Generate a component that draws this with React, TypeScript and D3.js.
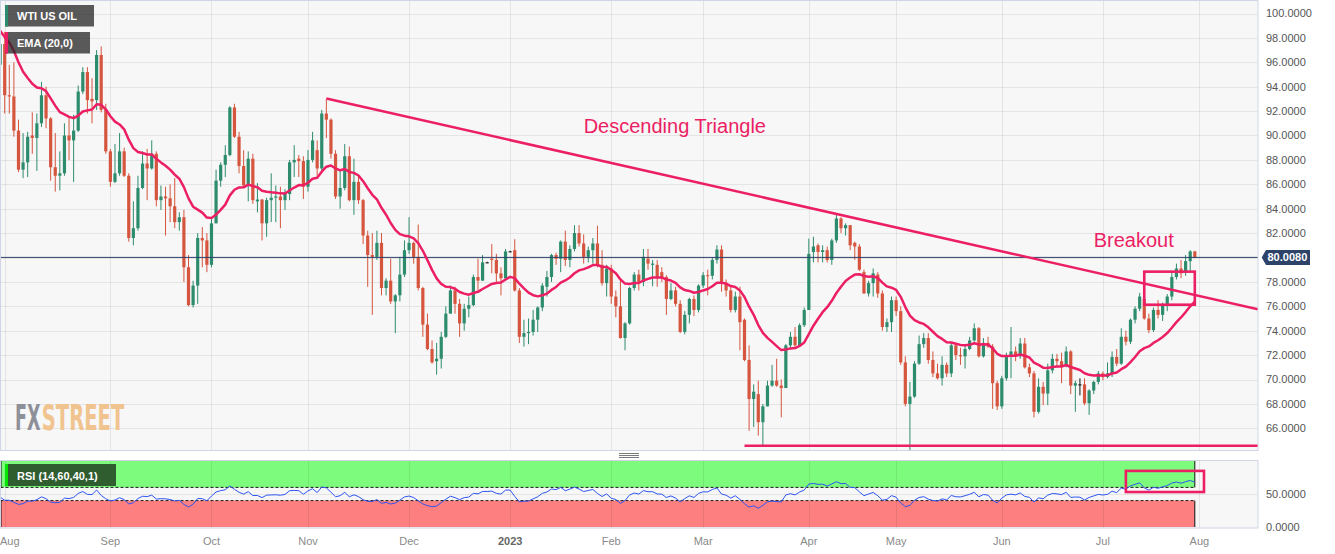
import React, { useEffect, useRef } from 'react';
import * as d3 from 'd3';

// open, high, low, close
type Candle = [number, number, number, number];

const jul2022: Candle[] = [[95.8, 98.9, 95.5, 97.5]];
const aug2022: Candle[] = [
  [97.5, 98.5, 91.8, 93.3], [93.3, 95.8, 91.8, 93.2], [93.2, 96.0, 89.9, 90.4], [90.4, 91.3, 87.0, 87.2],
  [87.2, 90.2, 86.5, 87.8], [87.8, 90.3, 86.6, 89.9], [90.0, 91.9, 88.5, 89.8], [89.8, 91.8, 87.1, 91.0],
  [91.0, 94.4, 90.7, 93.3], [93.3, 94.0, 90.6, 91.4], [91.4, 91.5, 86.3, 87.4], [87.4, 90.2, 85.4, 86.7],
  [86.7, 88.7, 85.5, 86.9], [86.9, 91.0, 86.7, 90.0], [90.0, 91.5, 88.0, 89.6], [89.6, 91.7, 86.2, 90.4],
  [90.4, 94.1, 90.3, 93.6], [93.6, 95.6, 93.4, 95.2], [95.2, 95.6, 91.8, 92.9], [93.0, 94.7, 91.0, 92.8],
  [92.9, 97.0, 92.1, 96.6], [96.6, 97.3, 91.9, 92.1], [92.1, 92.6, 88.5, 88.7],
];
const sep2022: Candle[] = [
  [88.7, 88.9, 85.8, 86.2], [86.2, 89.3, 86.1, 86.9], [86.9, 90.2, 86.7, 88.7], [88.7, 89.0, 86.6, 86.7],
  [86.7, 86.9, 81.3, 81.6], [81.6, 84.6, 81.0, 82.4], [82.4, 86.7, 82.2, 85.7], [85.7, 88.7, 85.6, 87.7],
  [87.7, 88.9, 84.7, 87.3], [87.3, 89.6, 87.2, 88.5], [88.5, 88.7, 84.2, 84.7], [84.7, 85.9, 83.9, 85.0],
  [85.0, 85.8, 81.8, 84.85], [84.85, 86.0, 82.9, 84.2], [84.2, 86.5, 82.4, 82.9], [82.9, 83.7, 82.2, 83.3],
  [83.3, 83.9, 78.0, 79.2], [79.2, 80.2, 76.0, 76.1], [76.1, 78.1, 75.9, 77.7], [77.7, 82.0, 76.2, 81.6],
  [81.6, 82.5, 79.2, 81.4], [81.4, 82.0, 78.8, 79.4],
];
const oct2022: Candle[] = [
  [79.4, 83.2, 79.2, 82.8], [82.8, 87.2, 82.8, 86.3], [86.3, 87.8, 85.8, 87.6], [87.6, 89.2, 86.6, 88.4],
  [88.4, 92.4, 88.3, 92.3], [92.3, 92.6, 89.8, 89.9], [89.9, 90.3, 86.9, 87.5], [87.5, 88.8, 85.7, 85.9],
  [85.9, 88.7, 84.6, 88.1], [88.1, 88.5, 84.4, 84.7], [84.6, 86.1, 83.7, 84.75], [84.75, 84.8, 81.4, 82.8],
  [82.8, 84.9, 81.7, 84.7], [84.7, 86.9, 82.9, 84.9], [84.9, 85.9, 82.9, 85.0], [85.0, 85.8, 82.4, 84.7],
  [84.7, 85.6, 83.9, 85.2], [85.2, 88.0, 84.7, 87.8], [87.8, 89.2, 86.6, 88.0], [88.1, 88.4, 86.6, 87.9],
  [87.9, 88.3, 84.8, 85.8],
];
const nov2022: Candle[] = [
  [85.8, 88.8, 85.4, 88.0], [88.0, 90.3, 87.8, 89.6], [88.8, 89.6, 86.7, 87.3], [87.3, 92.1, 87.0, 91.8],
  [91.8, 93.0, 89.8, 91.3], [91.3, 91.4, 88.1, 88.5], [88.5, 88.8, 84.8, 85.0], [85.0, 87.2, 84.0, 85.7],
  [85.7, 89.3, 85.5, 88.3], [88.3, 89.1, 84.6, 84.7], [84.7, 88.1, 83.5, 86.2], [86.2, 86.7, 84.4, 84.7],
  [84.7, 84.8, 81.1, 81.8], [81.8, 82.2, 77.6, 80.2], [80.2, 82.0, 75.3, 80.05], [80.05, 82.2, 79.8, 81.2],
  [81.2, 82.0, 76.9, 77.5], [77.5, 78.3, 76.9, 78.1], [78.1, 79.9, 76.2, 76.4], [76.4, 77.0, 73.8, 76.9],
  [76.9, 80.05, 76.4, 78.6], [78.6, 81.4, 78.4, 80.6],
];
const dec2022: Candle[] = [
  [80.6, 83.3, 80.3, 81.2], [81.2, 81.3, 79.5, 80.05], [80.05, 82.7, 77.3, 77.5], [77.5, 77.6, 73.5, 74.5],
  [74.5, 75.4, 72.4, 72.5], [72.5, 73.2, 71.3, 71.4], [71.5, 73.0, 70.4, 71.7], [71.7, 73.9, 70.9, 73.5],
  [73.5, 76.0, 73.4, 75.4], [75.4, 77.7, 75.4, 77.3], [77.3, 77.6, 75.4, 76.2], [76.2, 76.6, 73.5, 74.6],
  [74.6, 76.2, 74.0, 75.8], [75.8, 76.8, 75.1, 76.1], [76.1, 78.6, 76.0, 78.4], [78.4, 79.9, 77.3, 78.1],
  [78.1, 80.2, 78.1, 79.6], [79.6, 79.65, 79.55, 79.6], [79.9, 81.1, 78.7, 79.8], [79.8, 80.3, 78.0, 78.7],
  [78.7, 79.2, 76.9, 78.3], [78.3, 80.7, 78.1, 80.5],
];
const jan2023: Candle[] = [
  [80.5, 80.55, 80.45, 80.5], [80.6, 81.5, 77.2, 77.3], [77.3, 77.5, 73.0, 73.5], [73.5, 74.9, 72.7, 73.8],
  [73.8, 75.0, 72.9, 73.9], [73.9, 75.7, 73.6, 74.9], [74.9, 76.0, 73.9, 75.9], [75.9, 77.9, 75.6, 77.7],
  [77.6, 78.9, 76.8, 78.4], [78.4, 80.3, 78.0, 80.2], [80.2, 80.4, 79.4, 79.9], [79.9, 81.4, 78.8, 81.3],
  [81.3, 82.2, 79.3, 79.8], [79.8, 81.0, 79.2, 80.7], [80.7, 82.65, 80.5, 82.0], [82.0, 82.65, 80.9, 81.15],
  [81.15, 81.9, 79.5, 80.05], [80.05, 80.9, 79.6, 80.6], [80.6, 81.6, 79.5, 81.15], [81.15, 82.6, 79.2, 79.4],
  [79.4, 80.6, 77.7, 77.9], [77.9, 79.4, 76.8, 79.1],
];
const feb2023: Candle[] = [
  [79.1, 79.4, 76.2, 76.8], [76.8, 77.3, 75.1, 76.0], [76.0, 78.3, 73.35, 73.4], [73.4, 74.7, 72.4, 74.6],
  [74.6, 77.6, 74.5, 77.5], [77.5, 78.8, 77.3, 78.6], [78.6, 79.0, 77.3, 78.0], [78.0, 80.7, 77.65, 80.05],
  [79.9, 80.7, 79.0, 79.5], [79.4, 79.8, 77.65, 79.5], [79.4, 79.8, 77.6, 78.4], [78.8, 79.2, 78.0, 78.3],
  [78.4, 78.55, 75.3, 76.6], [76.6, 77.9, 76.5, 77.3], [77.3, 77.6, 76.0, 76.2], [76.2, 76.5, 73.8, 73.9],
  [73.9, 75.6, 73.7, 75.3], [75.3, 76.7, 74.6, 76.6], [76.6, 76.9, 75.2, 75.7], [75.7, 77.8, 75.5, 77.7],
];
const mar2023: Candle[] = [
  [77.7, 78.8, 77.5, 78.55], [78.55, 79.0, 76.9, 78.5], [78.5, 80.0, 78.2, 79.8], [79.8, 81.0, 79.5, 80.65],
  [80.65, 81.0, 77.2, 77.9], [77.9, 78.2, 76.8, 77.3], [77.3, 77.6, 75.5, 75.7], [75.7, 77.2, 75.5, 76.8],
  [76.8, 77.6, 72.4, 74.7], [74.9, 75.0, 71.5, 71.6], [71.6, 72.8, 65.8, 68.4], [68.4, 69.6, 66.1, 69.0],
  [68.8, 69.9, 65.4, 66.5], [66.5, 68.0, 64.5, 67.8], [67.8, 69.9, 67.8, 69.5], [69.5, 71.2, 69.4, 69.9],
  [69.9, 71.7, 69.4, 69.5], [69.5, 70.0, 66.9, 69.3], [69.3, 72.9, 69.3, 72.8], [72.8, 73.9, 72.5, 73.5],
  [73.5, 74.3, 72.7, 72.8], [72.8, 74.6, 72.7, 74.45], [74.45, 75.9, 74.3, 75.7],
];
const apr2023: Candle[] = [
  [75.7, 81.55, 75.7, 80.3], [80.45, 81.7, 79.6, 80.9], [81.0, 81.15, 79.6, 80.45], [80.45, 81.0, 79.6, 80.6],
  [80.6, 80.9, 79.6, 79.8], [79.8, 81.55, 79.4, 81.4], [81.4, 83.5, 81.2, 83.2], [83.2, 83.3, 82.0, 82.4],
  [82.4, 82.8, 81.8, 82.65], [82.65, 82.65, 80.6, 81.0], [81.2, 81.3, 79.8, 80.9], [80.9, 81.1, 78.9, 79.0],
  [78.8, 79.0, 77.05, 77.05], [77.05, 78.1, 76.8, 77.9], [77.9, 79.1, 76.8, 78.7], [78.6, 78.8, 76.7, 77.05],
  [77.05, 77.3, 74.0, 74.3], [74.3, 75.0, 73.9, 74.7], [74.7, 76.8, 73.9, 76.5],
];
const may2023: Candle[] = [
  [76.5, 76.8, 75.2, 75.6], [75.6, 76.0, 71.2, 71.4], [71.4, 71.9, 67.8, 68.0], [68.0, 69.8, 64.2, 68.6],
  [68.6, 71.5, 68.5, 71.3], [71.3, 73.6, 71.2, 72.9], [72.9, 73.8, 72.6, 73.4], [73.4, 73.8, 71.3, 71.6],
  [71.6, 72.3, 70.2, 70.5], [70.5, 71.3, 70.0, 70.1], [70.1, 71.9, 69.5, 71.2], [71.2, 71.4, 70.2, 70.5],
  [70.5, 73.0, 70.2, 72.8], [72.8, 72.9, 71.6, 72.0], [72.0, 72.6, 71.2, 71.9], [71.9, 72.9, 70.9, 72.5],
  [72.5, 73.5, 72.4, 73.2], [73.2, 74.6, 73.1, 74.2], [74.2, 74.3, 71.8, 71.9], [71.9, 73.4, 71.8, 73.0],
  [73.0, 73.5, 72.6, 72.7], [72.7, 72.9, 67.6, 69.7], [69.7, 69.9, 67.5, 67.8],
];
const jun2023: Candle[] = [
  [67.8, 70.3, 67.6, 70.1], [70.1, 72.2, 69.9, 71.9], [71.9, 74.3, 70.1, 72.3], [72.3, 72.7, 71.5, 71.9],
  [71.9, 73.4, 71.7, 72.95], [72.95, 73.4, 70.9, 71.0], [71.0, 71.3, 70.2, 70.5], [70.5, 70.7, 66.9, 67.35],
  [67.35, 70.1, 67.2, 69.4], [69.4, 69.8, 67.9, 68.85], [68.85, 71.3, 67.9, 70.75], [70.75, 72.1, 70.5, 71.7],
  [71.7, 72.1, 71.0, 71.5], [71.5, 72.2, 69.7, 71.1], [71.1, 72.7, 71.0, 72.3], [72.3, 72.4, 68.8, 69.5],
  [69.5, 69.9, 67.35, 69.7], [69.6, 70.1, 68.7, 69.6], [69.6, 70.1, 67.9, 68.05], [68.05, 69.2, 67.1, 69.1],
  [69.1, 69.9, 68.8, 69.8], [69.8, 70.7, 69.6, 70.5],
];
const jul2023: Candle[] = [
  [70.5, 70.65, 69.95, 70.2], [70.2, 71.4, 70.1, 70.5], [70.5, 72.3, 70.2, 71.85], [71.85, 72.5, 71.1, 71.3],
  [71.3, 74.2, 71.2, 73.5], [73.5, 74.0, 72.8, 73.1], [73.1, 75.0, 72.9, 74.9], [74.9, 76.0, 74.6, 75.8],
  [75.8, 77.1, 75.6, 76.8], [76.6, 76.9, 74.9, 75.0], [75.0, 75.4, 73.8, 74.05], [74.05, 75.9, 73.9, 75.7],
  [75.7, 76.5, 75.0, 75.3], [75.3, 76.3, 74.8, 76.1], [76.1, 77.0, 75.6, 76.8], [76.8, 78.9, 76.5, 78.4],
  [78.4, 79.5, 78.2, 79.1], [79.1, 79.8, 78.3, 78.7], [78.8, 80.2, 78.5, 79.7], [79.7, 80.6, 78.9, 80.5],
  [80.5, 80.55, 79.95, 80.008],
];

const candles: Candle[] = [
  ...jul2022, ...aug2022, ...sep2022, ...oct2022, ...nov2022, ...dec2022,
  ...jan2023, ...feb2023, ...mar2023, ...apr2023, ...may2023, ...jun2023, ...jul2023,
];

const closedSessions = ['2023-04-07'];
const priceTicks = [66, 68, 70, 72, 74, 76, 78, 80, 82, 84, 86, 88, 90, 92, 94, 96, 98, 100];
const rsiTicks = [0, 50];
const lastPrice = 80.008;
const emaLength = 20;
const emaSeed = 98.7;
const rsiLength = 14;
const rsiSeedGain = 1.2;
const rsiSeedLoss = 1.6;
const rsiHigh = 60;
const rsiLow = 40;

// drawings on the chart
const trendAnchors: [string, number][] = [['2022-11-07', 93.03], ['2023-04-12', 83.57]];
const support = { from: '2023-03-14', price: 64.57 };
const breakoutBox = { from: '2023-07-14', to: '2023-07-31', top: 78.84, bottom: 76.13 };
const rsiBox = { from: '2023-07-10', to: '2023-08-02', top: 85, bottom: 53 };
const notes = [
  { text: 'Descending Triangle', date: '2023-01-24', price: 90.2 },
  { text: 'Breakout', date: '2023-06-29', price: 80.85 },
];

const PINK = '#ec1f64';
const UP = '#2e8c6e';
const DOWN = '#d6553f';
const FONT = '"Liberation Sans", Arial, sans-serif';

export default function App() {
  const svgRef = useRef<SVGSVGElement>(null);

  useEffect(() => {
    if (!svgRef.current) return;
    const svg = d3.select(svgRef.current);
    svg.selectAll('*').remove();

    const plot = { left: 0.5, right: 1258, top: 0.5, bottom: 450.5 };
    const pane = { top: 460.5, bottom: 528 };

    // weekday sessions
    const key = d3.timeFormat('%Y-%m-%d');
    const sessions: Date[] = [];
    for (let d = new Date(2022, 6, 29); sessions.length < 290; d = d3.timeDay.offset(d, 1)) {
      const wd = d.getDay();
      if (wd === 0 || wd === 6 || closedSessions.includes(key(d))) continue;
      sessions.push(d);
    }
    const slot = (k: string) => sessions.findIndex(d => key(d) === k);

    const x = d3.scaleLinear().domain([1, 261]).range([4.7, 1199.4]);
    const y = d3.scaleLinear().domain([66, 100]).range([428.3, 13.5]);
    const yr = d3.scaleLinear().domain([0, 100]).range([527, 461]);
    const kEnd = x.invert(plot.right);
    const last = candles.length - 1;

    // indicators
    const alpha = 2 / (emaLength + 1);
    let e = emaSeed;
    const ema = candles.map(c => (e = e + alpha * (c[3] - e)));
    let g = rsiSeedGain, l = rsiSeedLoss, prev = candles[0][0];
    const rsi = candles.map(c => {
      const ch = c[3] - prev;
      prev = c[3];
      g = (g * (rsiLength - 1) + Math.max(ch, 0)) / rsiLength;
      l = (l * (rsiLength - 1) + Math.max(-ch, 0)) / rsiLength;
      return 100 - 100 / (1 + g / l);
    });

    const monthStarts = sessions
      .map((d, k) => ({ d, k }))
      .filter(({ d, k }) => k > 0 && d.getMonth() !== sessions[k - 1].getMonth() && x(k) < plot.right);

    svg.append('rect').attr('width', 1335).attr('height', 554).attr('fill', '#ffffff');

    const defs = svg.append('defs');
    defs.append('clipPath').attr('id', 'main-clip').append('rect')
      .attr('x', plot.left).attr('y', plot.top)
      .attr('width', plot.right - plot.left).attr('height', plot.bottom - plot.top);

    // ---------- main pane ----------
    svg.append('rect')
      .attr('x', plot.left).attr('y', plot.top)
      .attr('width', plot.right - plot.left).attr('height', plot.bottom - plot.top)
      .attr('fill', '#f7f7f7');

    const main = svg.append('g').attr('clip-path', 'url(#main-clip)');

    main.selectAll('line.hgrid').data(priceTicks).join('line')
      .attr('x1', plot.left).attr('x2', plot.right)
      .attr('y1', d => Math.round(y(d)) + 0.5).attr('y2', d => Math.round(y(d)) + 0.5)
      .attr('stroke', 'rgba(0,0,0,0.075)');
    main.selectAll('line.vgrid').data(monthStarts).join('line')
      .attr('x1', d => Math.round(x(d.k)) + 0.5).attr('x2', d => Math.round(x(d.k)) + 0.5)
      .attr('y1', plot.top).attr('y2', plot.bottom)
      .attr('stroke', 'rgba(0,0,0,0.075)');

    // watermark: each word squeezed horizontally to its width in the logo
    const wmFont = '"DejaVu Sans Condensed", "DejaVu Sans", sans-serif';
    [
      { word: 'FX', left: 15, width: 25.5, color: '#8e9099' },
      { word: 'STREET', left: 41.8, width: 82.5, color: '#f1c48f' },
    ].forEach(w => {
      const grp = main.append('g');
      const t = grp.append('text').attr('x', 0).attr('y', 0)
        .attr('font-family', wmFont).attr('font-weight', 700).attr('font-size', 35)
        .attr('fill', w.color).text(w.word);
      const len = (t.node() as SVGTextElement).getComputedTextLength() || w.width;
      grp.attr('transform', `translate(${w.left},430) scale(${w.width / len},1)`);
    });

    // candles
    const bodyW = 3.2;
    const cg = main.append('g');
    candles.forEach((c, k) => {
      const [o, h, lo, cl] = c;
      const color = cl > o ? UP : cl < o ? DOWN : '#111111';
      const cx = x(k);
      cg.append('rect')
        .attr('x', cx - 0.5).attr('width', 1)
        .attr('y', y(h)).attr('height', Math.max(0.8, y(lo) - y(h)))
        .attr('fill', color);
      const top = y(Math.max(o, cl));
      const bh = Math.max(1, Math.abs(y(o) - y(cl)));
      cg.append('rect')
        .attr('x', cx - bodyW / 2).attr('width', bodyW)
        .attr('y', top).attr('height', bh)
        .attr('fill', color);
    });

    // last price line
    main.append('line')
      .attr('x1', plot.left).attr('x2', plot.right)
      .attr('y1', y(lastPrice)).attr('y2', y(lastPrice))
      .attr('stroke', '#2b3f66').attr('stroke-width', 1);

    // EMA
    main.append('path')
      .datum(ema)
      .attr('d', d3.line<number>().x((_, k) => x(k)).y(v => y(v)))
      .attr('fill', 'none').attr('stroke', PINK).attr('stroke-width', 2.5)
      .attr('stroke-linejoin', 'round');

    // trend line
    const [a1, a2] = trendAnchors;
    const k1 = slot(a1[0]), k2 = slot(a2[0]);
    const slope = (a2[1] - a1[1]) / (k2 - k1);
    main.append('line')
      .attr('x1', x(k1)).attr('y1', y(a1[1]))
      .attr('x2', x(kEnd)).attr('y2', y(a1[1] + slope * (kEnd - k1)))
      .attr('stroke', PINK).attr('stroke-width', 2.5);

    // support
    main.append('line')
      .attr('x1', x(slot(support.from))).attr('x2', x(kEnd))
      .attr('y1', y(support.price)).attr('y2', y(support.price))
      .attr('stroke', PINK).attr('stroke-width', 2.6);

    // breakout box
    main.append('rect')
      .attr('x', x(slot(breakoutBox.from))).attr('y', y(breakoutBox.top))
      .attr('width', x(slot(breakoutBox.to)) - x(slot(breakoutBox.from)))
      .attr('height', y(breakoutBox.bottom) - y(breakoutBox.top))
      .attr('fill', 'none').attr('stroke', PINK).attr('stroke-width', 2.6);

    notes.forEach(n => {
      main.append('text')
        .attr('x', x(slot(n.date))).attr('y', y(n.price))
        .attr('font-family', FONT).attr('font-size', 20)
        .attr('fill', PINK).text(n.text);
    });

    // legends
    const legend = (yy: number, w: number, bar: string, label: string) => {
      svg.append('rect').attr('x', 5).attr('y', yy).attr('width', w).attr('height', 21.5).attr('fill', 'rgba(40,40,40,0.76)');
      svg.append('rect').attr('x', 5).attr('y', yy).attr('width', 3).attr('height', 21.5).attr('fill', bar);
      svg.append('text').attr('x', 17).attr('y', yy + 15.3)
        .attr('font-family', FONT).attr('font-size', 11).attr('font-weight', 700)
        .attr('fill', '#ffffff').text(label);
    };
    legend(5, 89, UP, 'WTI US OIL');
    legend(32, 85, PINK, 'EMA (20,0)');

    svg.append('rect')
      .attr('x', plot.left).attr('y', plot.top)
      .attr('width', plot.right - plot.left).attr('height', plot.bottom - plot.top)
      .attr('fill', 'none').attr('stroke', '#cfd5e4');

    // ---------- RSI pane ----------
    svg.append('rect')
      .attr('x', plot.left).attr('y', pane.top)
      .attr('width', plot.right - plot.left).attr('height', pane.bottom - pane.top)
      .attr('fill', '#f7f7f7');
    const xLast = x(last);
    svg.append('rect')
      .attr('x', plot.left).attr('y', yr(100))
      .attr('width', xLast - plot.left).attr('height', yr(rsiHigh) - yr(100))
      .attr('fill', '#7cfb7c');
    svg.append('rect')
      .attr('x', plot.left).attr('y', yr(rsiLow))
      .attr('width', xLast - plot.left).attr('height', yr(0) - yr(rsiLow))
      .attr('fill', '#fd7f7f');
    svg.selectAll('line.rgrid').data(monthStarts).join('line')
      .attr('x1', d => Math.round(x(d.k)) + 0.5).attr('x2', d => Math.round(x(d.k)) + 0.5)
      .attr('y1', pane.top).attr('y2', pane.bottom)
      .attr('stroke', 'rgba(0,0,0,0.075)');
    svg.append('line')
      .attr('x1', plot.left).attr('x2', plot.right)
      .attr('y1', Math.round(yr(50)) + 0.5).attr('y2', Math.round(yr(50)) + 0.5)
      .attr('stroke', 'rgba(0,0,0,0.075)');
    [rsiHigh, rsiLow].forEach(v => {
      svg.append('line')
        .attr('x1', plot.left).attr('x2', xLast)
        .attr('y1', yr(v)).attr('y2', yr(v))
        .attr('stroke', '#1a1a1a').attr('stroke-dasharray', '3,2');
    });
    [[100, rsiHigh], [rsiLow, 0]].forEach(([a, b]) => {
      [plot.left + 0.5, xLast].forEach(xx => {
        svg.append('line').attr('x1', xx).attr('x2', xx)
          .attr('y1', yr(a)).attr('y2', yr(b)).attr('stroke', '#111');
      });
    });
    svg.append('path')
      .datum(rsi)
      .attr('d', d3.line<number>().x((_, k) => x(k)).y(v => yr(v)))
      .attr('fill', 'none').attr('stroke', '#2d55f2').attr('stroke-width', 1);
    svg.append('rect')
      .attr('x', x(slot(rsiBox.from))).attr('y', yr(rsiBox.top))
      .attr('width', x(slot(rsiBox.to)) - x(slot(rsiBox.from)))
      .attr('height', yr(rsiBox.bottom) - yr(rsiBox.top))
      .attr('fill', 'none').attr('stroke', PINK).attr('stroke-width', 2.6);
    svg.append('rect').attr('x', 5).attr('y', 464).attr('width', 111).attr('height', 22).attr('fill', '#2f5d2f');
    svg.append('rect').attr('x', 5).attr('y', 464).attr('width', 3).attr('height', 22).attr('fill', '#00e600');
    svg.append('text').attr('x', 17).attr('y', 479.5)
      .attr('font-family', FONT).attr('font-size', 11).attr('font-weight', 700)
      .attr('fill', '#ffffff').text('RSI (14,60,40,1)');
    svg.append('rect')
      .attr('x', plot.left).attr('y', pane.top)
      .attr('width', plot.right - plot.left).attr('height', pane.bottom - pane.top)
      .attr('fill', 'none').attr('stroke', '#cfd5e4');

    // pane splitter handle
    [453.5, 455.5, 457.5].forEach(yy => {
      svg.append('line').attr('x1', 619).attr('x2', 639).attr('y1', yy).attr('y2', yy)
        .attr('stroke', '#7a7a7a');
    });

    // ---------- axes ----------
    const fmt = d3.format('.4f');
    svg.selectAll('text.ptick').data(priceTicks).join('text')
      .attr('x', 1266).attr('y', d => y(d)).attr('dy', '0.36em')
      .attr('font-family', FONT).attr('font-size', 11).attr('fill', '#555555')
      .text(d => fmt(d));
    svg.selectAll('text.rtick').data(rsiTicks).join('text')
      .attr('x', 1266).attr('y', d => yr(d)).attr('dy', '0.36em')
      .attr('font-family', FONT).attr('font-size', 11).attr('fill', '#555555')
      .text(d => fmt(d));

    const ly = y(lastPrice);
    svg.append('path')
      .attr('d', `M1261.7,${ly}L1266,${ly - 7.5}H1310V${ly + 7.5}H1266Z`)
      .attr('fill', '#2d4369');
    svg.append('text').attr('x', 1267.5).attr('y', ly).attr('dy', '0.36em')
      .attr('font-family', FONT).attr('font-size', 11).attr('font-weight', 700)
      .attr('fill', '#ffffff').text(fmt(lastPrice));

    const monthName = d3.timeFormat('%b');
    const yearName = d3.timeFormat('%Y');
    monthStarts.forEach(({ d, k }) => {
      const isYear = d.getMonth() === 0;
      const xx = x(k);
      const t = svg.append('text')
        .attr('y', 544.5)
        .attr('font-family', FONT).attr('font-size', 11)
        .attr('font-weight', isYear ? 700 : 400)
        .attr('fill', isYear ? '#666666' : '#8a8a8a')
        .text(isYear ? yearName(d) : monthName(d));
      if (xx < 12) t.attr('x', 0).attr('text-anchor', 'start');
      else t.attr('x', xx).attr('text-anchor', 'middle');
    });
  }, []);

  return (
    <svg
      ref={svgRef}
      width={1335}
      height={554}
      style={{ position: 'absolute', left: 0, top: 0, display: 'block' }}
    />
  );
}
